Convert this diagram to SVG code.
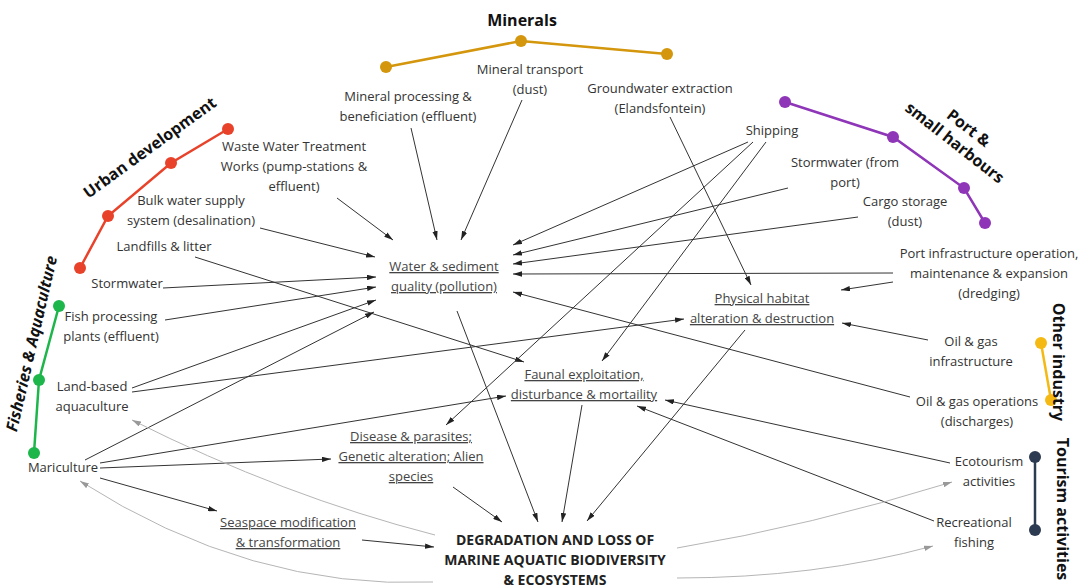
<svg xmlns="http://www.w3.org/2000/svg" width="1090" height="587" viewBox="0 0 1090 587">
<defs>
<marker id="ah" viewBox="0 0 10 6" refX="10" refY="3" markerWidth="9" markerHeight="5.5" markerUnits="userSpaceOnUse" orient="auto"><path d="M0,0 L10,3 L0,6 z" fill="#222"/></marker>
<marker id="ahg" viewBox="0 0 10 6" refX="10" refY="3" markerWidth="9" markerHeight="5.5" markerUnits="userSpaceOnUse" orient="auto"><path d="M0,0 L10,3 L0,6 z" fill="#999"/></marker>
<style>
text{font-family:"Open Sans","Noto Sans","Liberation Sans",sans-serif;font-size:13px;fill:#333;text-anchor:middle}
.u{text-decoration:underline;fill:#444}
.cat{font-weight:bold;font-size:16px;fill:#111}
.deg{font-weight:bold;font-size:14px;fill:#222}
.c{stroke:#333;stroke-width:1;fill:none;marker-end:url(#ah)}
.g{stroke:#b5b5b5;stroke-width:1;fill:none;marker-end:url(#ahg)}
.cl{fill:none;stroke-width:2.5}
</style>
</defs>
<rect width="1090" height="587" fill="#fff"/>

<g id="connectors">
<line class="c" x1="337" y1="198" x2="393" y2="240"/>
<line class="c" x1="260" y1="228" x2="375" y2="257"/>
<line class="c" x1="195" y1="257" x2="524" y2="362"/>
<line class="c" x1="163" y1="288" x2="376" y2="277"/>
<line class="c" x1="165" y1="320" x2="376" y2="287"/>
<line class="c" x1="132" y1="388" x2="376" y2="300"/>
<line class="c" x1="132" y1="392" x2="684" y2="319"/>
<line class="c" x1="85" y1="460" x2="374" y2="312"/>
<line class="c" x1="100" y1="463" x2="506" y2="396"/>
<line class="c" x1="100" y1="468" x2="331" y2="459"/>
<line class="c" x1="100" y1="478" x2="217" y2="511"/>
<line class="c" x1="362" y1="540" x2="434" y2="547"/>
<line class="c" x1="453" y1="487" x2="502" y2="522"/>
<line class="c" x1="457" y1="311" x2="538" y2="522"/>
<line class="c" x1="582" y1="405" x2="562" y2="522"/>
<line class="c" x1="745" y1="330" x2="587" y2="521"/>
<line class="c" x1="411" y1="128" x2="437" y2="240"/>
<line class="c" x1="522" y1="100" x2="461" y2="240"/>
<line class="c" x1="670" y1="117" x2="751" y2="285"/>
<line class="c" x1="748" y1="142" x2="513" y2="245"/>
<line class="c" x1="753" y1="142" x2="446" y2="425"/>
<line class="c" x1="766" y1="142" x2="602" y2="361"/>
<line class="c" x1="788" y1="188" x2="513" y2="255"/>
<line class="c" x1="858" y1="217" x2="513" y2="264"/>
<line class="c" x1="893" y1="273" x2="513" y2="274"/>
<line class="c" x1="893" y1="282" x2="841" y2="290"/>
<line class="c" x1="928" y1="340" x2="842" y2="323"/>
<line class="c" x1="910" y1="397" x2="513" y2="292"/>
<line class="c" x1="950" y1="463" x2="665" y2="400"/>
<line class="c" x1="934" y1="521" x2="637" y2="406"/>
<path class="g" d="M435,535 Q283,496 132,420"/>
<path class="g" d="M433,582 Q250,590 80,481"/>
<path class="g" d="M677,548 Q810,526 952,482"/>
<path class="g" d="M677,578 Q815,578 933,546"/>
</g>

<g id="cat-minerals">
<polyline class="cl" stroke="#D4960D" points="386,67 521,41 667,54"/>
<g fill="#D4960D"><circle cx="386" cy="67" r="6"/><circle cx="521" cy="41" r="6"/><circle cx="667" cy="54" r="6"/></g>
<text class="cat" x="522" y="26">Minerals</text>
</g>
<g id="cat-urban">
<polyline class="cl" stroke="#E8432A" points="80,268 108,216 171,163 228,129"/>
<g fill="#E8432A"><circle cx="80" cy="268" r="6"/><circle cx="108" cy="216" r="6"/><circle cx="171" cy="163" r="6"/><circle cx="228" cy="129" r="6"/></g>
<text class="cat" transform="translate(153,152) rotate(-36)">Urban development</text>
</g>
<g id="cat-fisheries">
<polyline class="cl" stroke="#1DB64B" points="59,306 39,380 34,453"/>
<g fill="#1DB64B"><circle cx="59" cy="306" r="6"/><circle cx="39" cy="380" r="6"/><circle cx="34" cy="453" r="6"/></g>
<text class="cat" font-style="italic" transform="translate(37,345) rotate(-77)">Fisheries &amp; Aquaculture</text>
</g>
<g id="cat-port">
<polyline class="cl" stroke="#8E35B8" points="785,102 893,137 964,188 985,223"/>
<g fill="#8E35B8"><circle cx="785" cy="102" r="6"/><circle cx="893" cy="137" r="6"/><circle cx="964" cy="188" r="6"/><circle cx="985" cy="223" r="6"/></g>
<g transform="translate(960,136) rotate(38)"><text class="cat" x="2" y="-6">Port &amp;</text><text class="cat" x="0" y="14">small harbours</text></g>
</g>
<g id="cat-other">
<line class="cl" stroke="#F5B914" x1="1041" y1="343" x2="1051" y2="400"/>
<g fill="#F5B914"><circle cx="1041" cy="343" r="6"/><circle cx="1051" cy="400" r="6"/></g>
<text class="cat" transform="translate(1053,362) rotate(90)">Other industry</text>
</g>
<g id="cat-tourism">
<line class="cl" stroke="#2C3A52" x1="1035" y1="457" x2="1035" y2="530"/>
<g fill="#2C3A52"><circle cx="1035" cy="457" r="6"/><circle cx="1035" cy="530" r="6"/></g>
<text class="cat" transform="translate(1057,509) rotate(90)">Tourism activities</text>
</g>

<g id="n-mineral-processing"><text x="408" y="101">Mineral processing &amp;</text><text x="408" y="121">beneficiation (effluent)</text></g>
<g id="n-mineral-transport"><text x="530" y="74">Mineral transport</text><text x="530" y="94">(dust)</text></g>
<g id="n-groundwater"><text x="660" y="93">Groundwater extraction</text><text x="660" y="113">(Elandsfontein)</text></g>
<g id="n-wwtw"><text x="294" y="151">Waste Water Treatment</text><text x="294" y="171">Works (pump-stations &amp;</text><text x="294" y="191">effluent)</text></g>
<g id="n-bulk-water"><text x="191" y="205">Bulk water supply</text><text x="191" y="225">system (desalination)</text></g>
<g id="n-landfills"><text x="164" y="251">Landfills &amp; litter</text></g>
<g id="n-stormwater"><text x="127" y="288">Stormwater</text></g>
<g id="n-fish-processing"><text x="111" y="321">Fish processing</text><text x="111" y="341">plants (effluent)</text></g>
<g id="n-land-based"><text x="92" y="391">Land-based</text><text x="92" y="411">aquaculture</text></g>
<g id="n-mariculture"><text x="63" y="472">Mariculture</text></g>
<g id="n-water"><text class="u" x="444" y="271">Water &amp; sediment</text><text class="u" x="444" y="291">quality (pollution)</text></g>
<g id="n-physical"><text class="u" x="762" y="303">Physical habitat</text><text class="u" x="762" y="323">alteration &amp; destruction</text></g>
<g id="n-faunal"><text class="u" x="584" y="379">Faunal exploitation,</text><text class="u" x="584" y="399">disturbance &amp; mortaility</text></g>
<g id="n-disease"><text class="u" x="411" y="441">Disease &amp; parasites;</text><text class="u" x="411" y="461">Genetic alteration; Alien</text><text class="u" x="411" y="481">species</text></g>
<g id="n-seaspace"><text class="u" x="288" y="527">Seaspace modification</text><text class="u" x="288" y="547">&amp; transformation</text></g>
<g id="n-degradation"><text class="deg" x="555" y="545">DEGRADATION AND LOSS OF</text><text class="deg" x="555" y="565">MARINE AQUATIC BIODIVERSITY</text><text class="deg" x="555" y="585">&amp; ECOSYSTEMS</text></g>
<g id="n-shipping"><text x="772" y="135">Shipping</text></g>
<g id="n-stormwater-port"><text x="845" y="167">Stormwater (from</text><text x="845" y="187">port)</text></g>
<g id="n-cargo"><text x="905" y="206">Cargo storage</text><text x="905" y="226">(dust)</text></g>
<g id="n-port-infra"><text x="989" y="258">Port infrastructure operation,</text><text x="989" y="278">maintenance &amp; expansion</text><text x="989" y="298">(dredging)</text></g>
<g id="n-oilgas-infra"><text x="971" y="346">Oil &amp; gas</text><text x="971" y="366">infrastructure</text></g>
<g id="n-oilgas-ops"><text x="977" y="406">Oil &amp; gas operations</text><text x="977" y="426">(discharges)</text></g>
<g id="n-ecotourism"><text x="989" y="466">Ecotourism</text><text x="989" y="486">activities</text></g>
<g id="n-recreational"><text x="974" y="527">Recreational</text><text x="974" y="547">fishing</text></g>
</svg>
